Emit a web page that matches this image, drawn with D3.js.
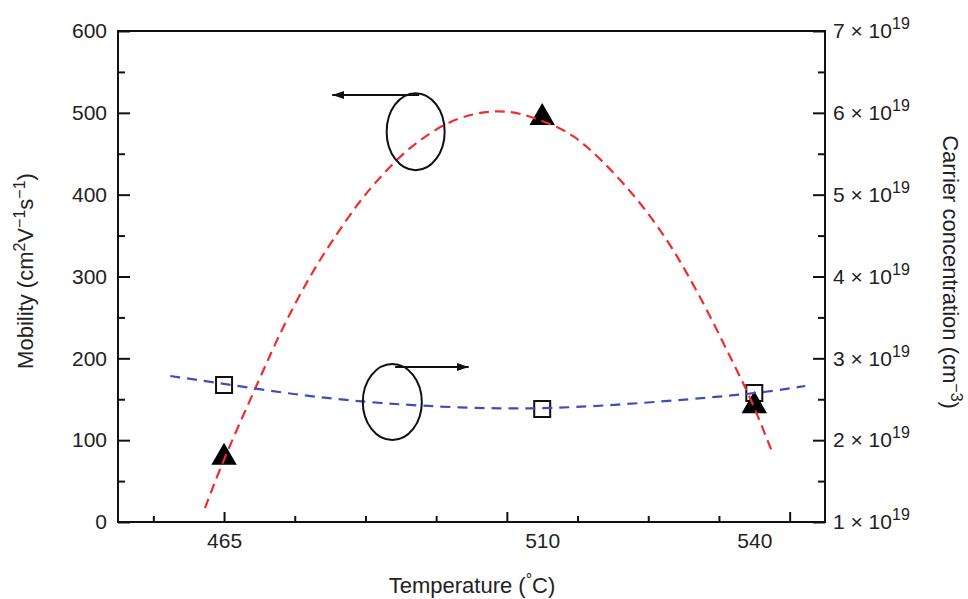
<!DOCTYPE html>
<html>
<head>
<meta charset="utf-8">
<script src="https://cdn.jsdelivr.net/npm/d3@7"></script>
<style>
  html, body { margin: 0; padding: 0; background: #fff; }
  svg text { font-family: "Liberation Sans", Arial, sans-serif; fill: #222; }
</style>
</head>
<body>
<svg id="chart" width="968" height="599"></svg>
<script>
// ---- data ----
const temps = [465, 510, 540];                 // Temperature (°C)
const mobility = [79, 494, 142];               // cm2 V-1 s-1 (left axis)
const carrier = [2.674, 2.381, 2.576];         // ×10^19 cm-3 (right axis)

// dashed fit curves
const mobFitT = [462.3, 464.9, 469.0, 471.1, 473.3, 477.2, 480.4, 483.8, 486.6, 490.6, 496.0, 500.2, 503.6, 506.9, 510.7, 514.4, 518.6, 523.4, 527.7, 530.5, 533.7, 536.6, 539.4, 542.5];
const mobFitV = [17, 76, 155, 196, 238, 302, 345, 388, 417, 454, 487, 499, 503, 500, 488, 474, 441, 396, 345, 304, 253, 201, 154, 86];
const carFitT = [457.4, 465.0, 473.9, 482.8, 492.7, 504.0, 513.9, 528.1, 537.6, 542.2, 547.2];
const carFitV = [2.784, 2.69, 2.57, 2.482, 2.418, 2.381, 2.393, 2.478, 2.552, 2.595, 2.662];

// axis ticks
const xMinorTicks = [455, 475, 485, 495, 515, 525, 535];
const xMajorTicks = [465, 505, 545];
const xLabels = [465, 510, 540];
const yLeftMajor = [0, 100, 200, 300, 400, 500, 600];
const yLeftMinor = [50, 150, 250, 350, 450, 550];
const yRightMajor = [1, 2, 3, 4, 5, 6, 7];
const yRightMinor = [1.5, 2.5, 3.5, 4.5, 5.5, 6.5];

// annotation anchors (data units)
const annoMobEllipse = [492.1, 477];        // T, mobility
const annoMobArrow = [492.6, 480.3, 521.8]; // T start, T end, mobility level
const annoCarEllipse = [488.8, 2.466];      // T, carrier
const annoCarArrow = [489.2, 499.6, 2.894];

// ---- layout ----
const L = 118, R = 825, T = 31, B = 522;
const svg = d3.select("#chart");

const x = d3.scaleLinear().domain([450, 550]).range([L, R]);
const yL = d3.scaleLinear().domain([0, 600]).range([B, T]);
const yR = d3.scaleLinear().domain([1, 7]).range([B, T]);

const defs = svg.append("defs");
defs.append("marker").attr("id", "arrow").attr("viewBox", "0 0 12 8")
  .attr("refX", 12).attr("refY", 4).attr("markerWidth", 12).attr("markerHeight", 8)
  .attr("markerUnits", "userSpaceOnUse").attr("orient", "auto")
  .append("path").attr("d", "M0,0 L12,4 L0,8 Z").attr("fill", "#111");

// ---- axes ----
function styleAxis(g) {
  g.select(".domain").remove();
  g.selectAll(".tick line").attr("stroke", "#111").attr("stroke-width", 2);
  g.selectAll(".tick text").attr("font-size", 21).attr("fill", "#222")
    .attr("font-family", '"Liberation Sans", Arial, sans-serif');
}

// left
svg.append("g").attr("transform", `translate(${L},0)`)
  .call(d3.axisLeft(yL).tickValues(yLeftMajor).tickSizeInner(-12).tickSizeOuter(0).tickPadding(11))
  .call(styleAxis);
svg.append("g").attr("transform", `translate(${L},0)`)
  .call(d3.axisLeft(yL).tickValues(yLeftMinor).tickSizeInner(-7).tickSizeOuter(0).tickFormat(""))
  .call(styleAxis);

// right
const rightAx = svg.append("g").attr("transform", `translate(${R},0)`)
  .call(d3.axisRight(yR).tickValues(yRightMajor).tickSizeInner(-12).tickSizeOuter(0).tickPadding(8)
    .tickFormat(d => d))
  .call(styleAxis);
rightAx.selectAll(".tick text").each(function(d) {
  const t = d3.select(this);
  t.text(null).attr("text-anchor", "start");
  t.append("tspan").text(d + " \u00d7 10");
  t.append("tspan").attr("dy", -9).attr("font-size", 16).text("19");
});
svg.append("g").attr("transform", `translate(${R},0)`)
  .call(d3.axisRight(yR).tickValues(yRightMinor).tickSizeInner(-7).tickSizeOuter(0).tickFormat(""))
  .call(styleAxis);

// bottom
svg.append("g").attr("transform", `translate(0,${B})`)
  .call(d3.axisBottom(x).tickValues(xMinorTicks).tickSizeInner(-6).tickSizeOuter(0).tickFormat(""))
  .call(styleAxis);
svg.append("g").attr("transform", `translate(0,${B})`)
  .call(d3.axisBottom(x).tickValues(xMajorTicks).tickSizeInner(-10).tickSizeOuter(0).tickFormat(""))
  .call(styleAxis);
svg.append("g").attr("transform", `translate(0,${B})`)
  .call(d3.axisBottom(x).tickValues(xLabels).tickSize(0).tickPadding(11).tickFormat(d3.format("d")))
  .call(styleAxis);

// frame
svg.append("rect").attr("x", L).attr("y", T).attr("width", R - L).attr("height", B - T)
  .attr("fill", "none").attr("stroke", "#111").attr("stroke-width", 2);

// ---- markers ----
const sq = d3.symbol().type(d3.symbolSquare).size(16 * 16);
svg.append("g").selectAll("path").data(temps).join("path")
  .attr("transform", (d, i) => `translate(${x(d)},${yR(carrier[i])})`)
  .attr("d", sq).attr("fill", "#fff").attr("stroke", "#111").attr("stroke-width", 2);

const tri = d3.symbol().type(d3.symbolTriangle).size(280);
svg.append("g").selectAll("path").data(temps).join("path")
  .attr("transform", (d, i) => `translate(${x(d)},${yL(mobility[i])})`)
  .attr("d", tri).attr("fill", "#000");

// ---- fit curves ----
const lineMob = d3.line().x((d, i) => x(mobFitT[i])).y(d => yL(d)).curve(d3.curveBasis);
svg.append("path").datum(mobFitV).attr("d", lineMob).attr("fill", "none")
  .attr("stroke", "#f02d2d").attr("stroke-width", 2.2).attr("stroke-dasharray", "10,6");

const lineCar = d3.line().x((d, i) => x(carFitT[i])).y(d => yR(d)).curve(d3.curveBasis);
svg.append("path").datum(carFitV).attr("d", lineCar).attr("fill", "none")
  .attr("stroke", "#3d4fb5").attr("stroke-width", 2.2).attr("stroke-dasharray", "10,7");

// ---- annotations ----
svg.append("ellipse").attr("cx", x(annoMobEllipse[0])).attr("cy", yL(annoMobEllipse[1]))
  .attr("rx", 29).attr("ry", 38.5).attr("fill", "none").attr("stroke", "#111").attr("stroke-width", 2);
svg.append("line").attr("x1", x(annoMobArrow[0])).attr("x2", x(annoMobArrow[1]))
  .attr("y1", yL(annoMobArrow[2])).attr("y2", yL(annoMobArrow[2]))
  .attr("stroke", "#111").attr("stroke-width", 2).attr("marker-end", "url(#arrow)");

svg.append("ellipse").attr("cx", x(annoCarEllipse[0])).attr("cy", yR(annoCarEllipse[1]))
  .attr("rx", 29.5).attr("ry", 38).attr("fill", "none").attr("stroke", "#111").attr("stroke-width", 2);
svg.append("line").attr("x1", x(annoCarArrow[0])).attr("x2", x(annoCarArrow[1]))
  .attr("y1", yR(annoCarArrow[2])).attr("y2", yR(annoCarArrow[2]))
  .attr("stroke", "#111").attr("stroke-width", 2).attr("marker-end", "url(#arrow)");

// ---- axis titles ----
const xt = svg.append("text").attr("x", 472).attr("y", 593).attr("text-anchor", "middle").attr("font-size", 22);
xt.append("tspan").text("Temperature (");
xt.append("tspan").attr("dy", -8).attr("font-size", 16).text("\u00b0");
xt.append("tspan").attr("dy", 8).text("C)");

const lt = svg.append("text").attr("transform", "translate(33,271) rotate(-90)")
  .attr("text-anchor", "middle").attr("font-size", 22);
lt.append("tspan").text("Mobility (cm");
lt.append("tspan").attr("dy", -8).attr("font-size", 16).text("2");
lt.append("tspan").attr("dy", 8).text("V");
lt.append("tspan").attr("dy", -8).attr("font-size", 16).text("\u22121");
lt.append("tspan").attr("dy", 8).text("s");
lt.append("tspan").attr("dy", -8).attr("font-size", 16).text("\u22121");
lt.append("tspan").attr("dy", 8).text(")");

const rt = svg.append("text").attr("transform", "translate(943,272) rotate(90)")
  .attr("text-anchor", "middle").attr("font-size", 22);
rt.append("tspan").text("Carrier concentration (cm");
rt.append("tspan").attr("dy", -8).attr("font-size", 16).text("\u22123");
rt.append("tspan").attr("dy", 8).text(")");
</script>
</body>
</html>
